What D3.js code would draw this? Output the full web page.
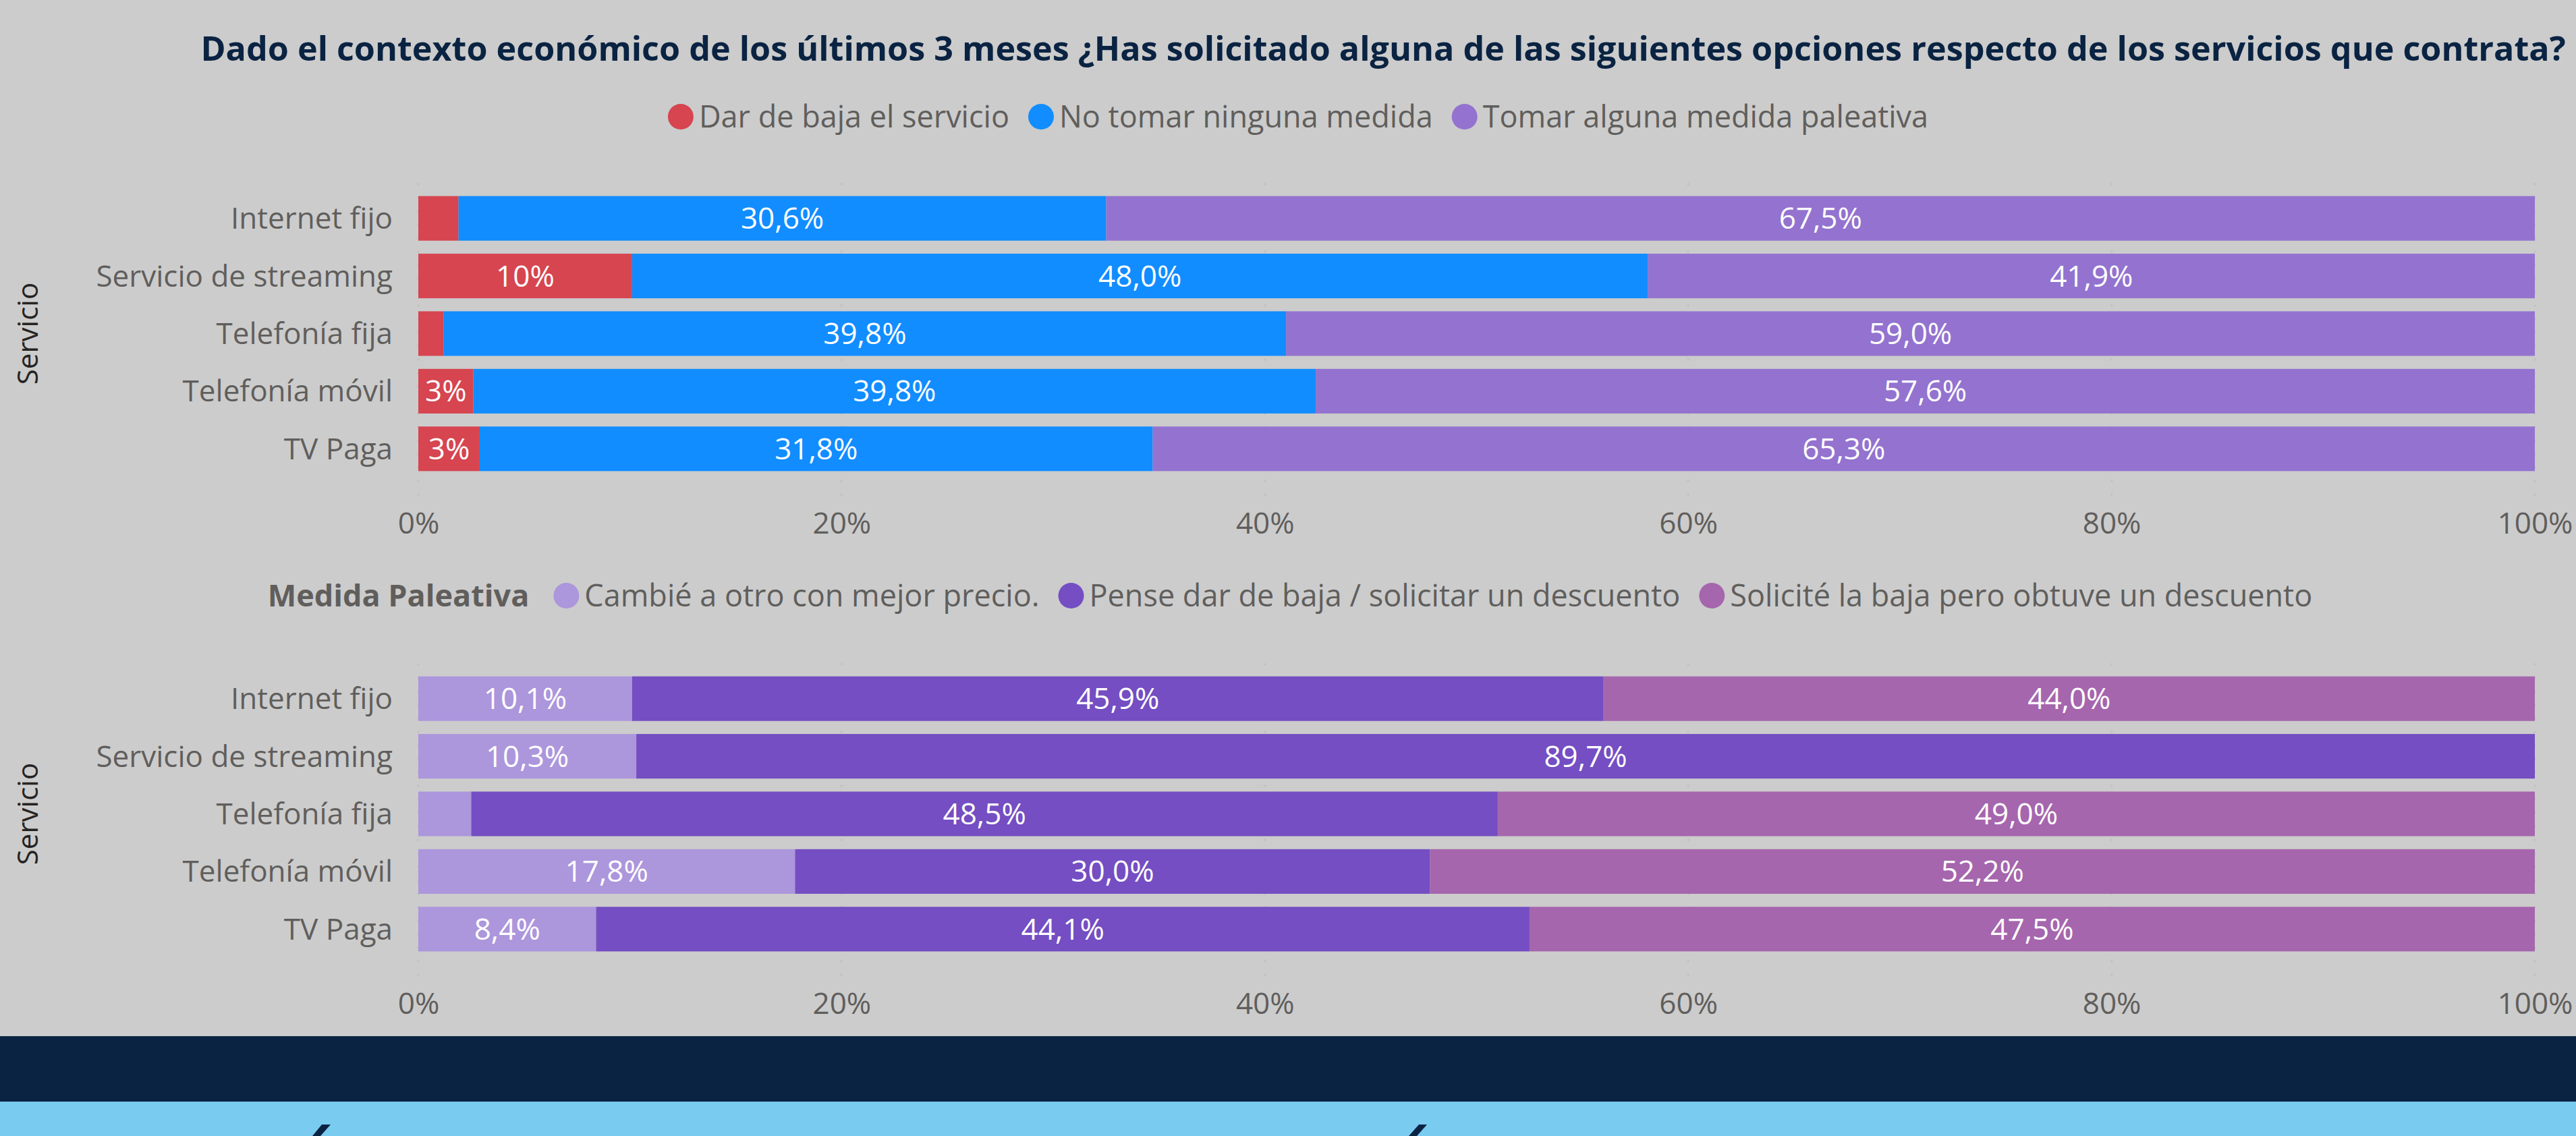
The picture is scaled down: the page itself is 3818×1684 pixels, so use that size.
<!DOCTYPE html>
<html>
<head>
<meta charset="utf-8">
<script src="https://cdn.jsdelivr.net/npm/d3@7"></script>
<style>
  html, body { margin: 0; padding: 0; background: #cccccc; }
  svg { display: block; }
  text { font-family: "Segoe UI", "Open Sans", sans-serif; }
</style>
</head>
<body>
<svg id="canvas"></svg>
<script>

const services = ['Internet fijo', 'Servicio de streaming', 'Telefonía fija', 'Telefonía móvil', 'TV Paga']

// grafico de arriba
const topKeys = ['Dar de baja el servicio', 'No tomar ninguna medida', 'Tomar alguna medida paleativa']
const darDeBaja = [1.9, 10.1, 1.2, 2.6, 2.9]
const noTomar = [30.6, 48.0, 39.8, 39.8, 31.8]
const tomarMedida = [67.5, 41.9, 59.0, 57.6, 65.3]
const topColors = ['#d64550', '#118dff', '#9373cf']

// grafico de abajo
const bottomKeys = ['Cambié a otro con mejor precio.', 'Pense dar de baja / solicitar un descuento', 'Solicité la baja pero obtuve un descuento']
const cambie = [10.1, 10.3, 2.5, 17.8, 8.4]
const pense = [45.9, 89.7, 48.5, 30.0, 44.1]
const solicite = [44.0, 0, 49.0, 52.2, 47.5]
const bottomColors = ['#ac96dc', '#744ec2', '#a566ad']

const tickValues = [0, 20, 40, 60, 80, 100]

const W = 3818
const H = 1684
const grey = '#605e5c'
const navy = '#0a2342'

let canvas = d3.select('#canvas').attr('width', W).attr('height', H)

canvas.append('rect').attr('width', W).attr('height', H).attr('fill', '#cccccc')

const es = d3.formatLocale({decimal: ',', thousands: '.', grouping: [3], currency: ['', '€']})
const fmt1 = es.format('.1f')

let x = d3.scaleLinear().domain([0, 100]).range([620, 3757])

// titulo
let title = canvas.append('text')
    .attr('x', 2050)
    .attr('y', 90)
    .attr('text-anchor', 'middle')
    .attr('font-weight', 'bold')
    .attr('font-size', 50)
    .attr('fill', navy)
    .text('Dado el contexto económico de los últimos 3 meses ¿Has solicitado alguna de las siguientes opciones respecto de los servicios que contrata?')
let tl = title.node().getComputedTextLength()
title.attr('font-size', 50 * 3506 / tl)

const drawLegend = (keys, colors, cy, center, heading) => {
    let g = canvas.append('g')
    let cursor = 0
    if (heading) {
        let h = g.append('text')
            .attr('x', cursor)
            .attr('y', cy)
            .attr('dy', '0.35em')
            .attr('font-size', 45)
            .attr('font-weight', 'bold')
            .attr('fill', grey)
            .text(heading)
        cursor += h.node().getComputedTextLength() + 36
    }
    keys.forEach((k, i) => {
        g.append('circle')
            .attr('cx', cursor + 19)
            .attr('cy', cy)
            .attr('r', 19)
            .attr('fill', colors[i])
        let t = g.append('text')
            .attr('x', cursor + 46)
            .attr('y', cy)
            .attr('dy', '0.35em')
            .attr('font-size', 45)
            .attr('fill', grey)
            .text(k)
        cursor += 46 + t.node().getComputedTextLength() + 28
    })
    cursor -= 28
    g.attr('transform', 'translate(' + (center - cursor / 2) + ',0)')
}

const drawChart = (keys, colors, series, y0, y1, gridTop, gridBottom, axisY, labelFormats) => {
    let table = services.map((s, i) => {
        let row = {servicio: s}
        keys.forEach((k, j) => { row[k] = series[j][i] })
        return row
    })
    let stacked = d3.stack().keys(keys)(table)

    let y = d3.scaleBand()
        .domain(services)
        .range([y0, y1])
        .paddingInner(0.226)
        .paddingOuter(0.113)

    // lineas de la grilla punteadas
    canvas.append('g')
        .selectAll('line')
        .data(tickValues)
        .enter()
        .append('line')
        .attr('x1', d => x(d))
        .attr('x2', d => x(d))
        .attr('y1', gridTop)
        .attr('y2', gridBottom)
        .attr('stroke', '#c3c3c3')
        .attr('stroke-width', 4)
        .attr('stroke-linecap', 'round')
        .attr('stroke-dasharray', '0 20')

    let layers = canvas.append('g')
        .selectAll('g')
        .data(stacked)
        .enter()
        .append('g')
        .attr('fill', (d, i) => colors[i])

    layers.selectAll('rect')
        .data(d => d)
        .enter()
        .append('rect')
        .attr('x', d => x(d[0]))
        .attr('y', d => y(d.data.servicio))
        .attr('width', d => x(d[1]) - x(d[0]))
        .attr('height', y.bandwidth())

    // etiquetas de valor
    stacked.forEach((layer, li) => {
        layer.forEach(d => {
            let w = x(d[1]) - x(d[0])
            if (w <= 0) return
            let t = canvas.append('text')
                .attr('x', (x(d[0]) + x(d[1])) / 2)
                .attr('y', y(d.data.servicio) + y.bandwidth() / 2)
                .attr('dy', '0.35em')
                .attr('text-anchor', 'middle')
                .attr('font-size', 44)
                .attr('fill', 'white')
                .text(labelFormats[li](d[1] - d[0]) + '%')
            if (t.node().getComputedTextLength() + 8 > w) t.remove()
        })
    })

    // categorias
    canvas.append('g')
        .selectAll('text')
        .data(services)
        .enter()
        .append('text')
        .attr('x', 582)
        .attr('y', d => y(d) + y.bandwidth() / 2)
        .attr('dy', '0.35em')
        .attr('text-anchor', 'end')
        .attr('font-size', 44)
        .attr('fill', grey)
        .text(d => d)

    // titulo del eje
    let cy = (y0 + y1) / 2
    canvas.append('text')
        .attr('transform', 'translate(41,' + cy + ') rotate(-90)')
        .attr('text-anchor', 'middle')
        .attr('dy', '0.35em')
        .attr('font-size', 42)
        .attr('fill', '#252423')
        .text('Servicio')

    let axis = canvas.append('g')
        .attr('transform', 'translate(0,' + axisY + ')')
        .call(d3.axisBottom(x).tickValues(tickValues).tickSize(0).tickPadding(0).tickFormat(d => d + '%'))
    axis.select('.domain').remove()
    axis.selectAll('text')
        .attr('font-family', '"Segoe UI", "Open Sans", sans-serif')
        .attr('font-size', 44)
        .attr('fill', grey)
}

drawLegend(topKeys, topColors, 173, 1924, null)
drawChart(topKeys, topColors, [darDeBaja, noTomar, tomarMedida], 281, 708, 273, 735, 760,
    [d => Math.round(d), fmt1, fmt1])

drawLegend(bottomKeys, bottomColors, 883, 1912, 'Medida Paleativa')
drawChart(bottomKeys, bottomColors, [cambie, pense, solicite], 993, 1420, 985, 1447, 1472,
    [fmt1, fmt1, fmt1])

// bandas de abajo
canvas.append('rect').attr('x', 0).attr('y', 1536).attr('width', W).attr('height', 97).attr('fill', navy)
canvas.append('rect').attr('x', 0).attr('y', 1633).attr('width', W).attr('height', 51).attr('fill', '#7acbf0')
canvas.append('polygon').attr('points', '477,1667 490,1667 475,1684 463,1684').attr('fill', navy)
canvas.append('polygon').attr('points', '2103,1667 2115,1667 2100,1684 2088,1684').attr('fill', navy)

</script>
</body>
</html>
